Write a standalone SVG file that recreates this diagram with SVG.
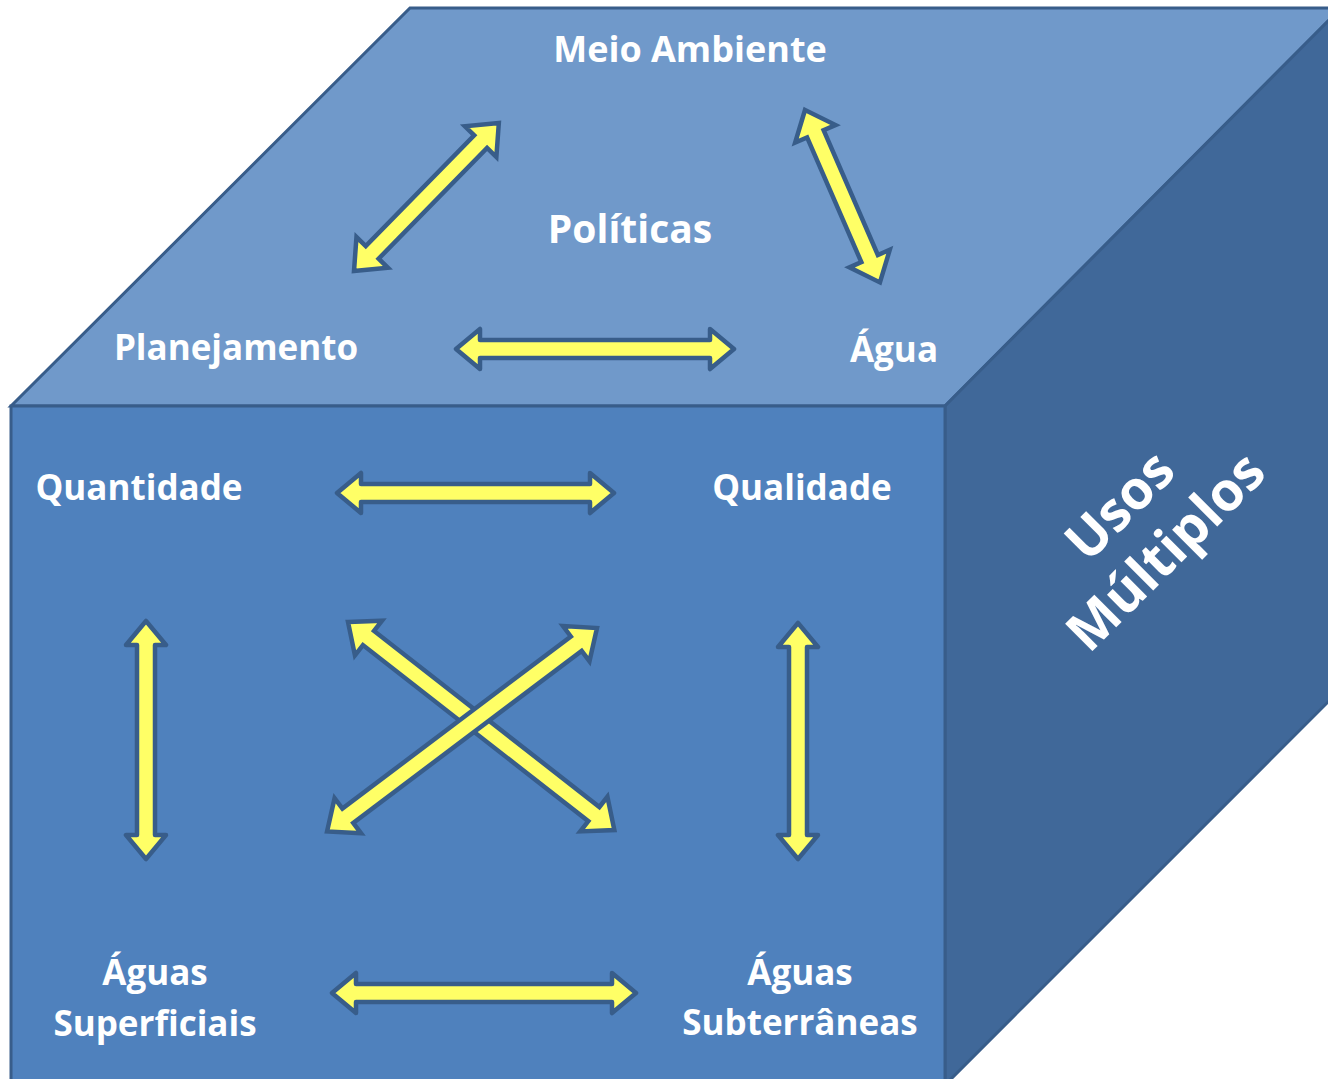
<svg xmlns="http://www.w3.org/2000/svg" width="1328" height="1079" viewBox="0 0 1328 1079">
<style>
.face{stroke:#385D8A;stroke-width:3;stroke-linejoin:miter}
.arr{fill:#FFFF66;stroke:#385D8A;stroke-width:4.5;stroke-linejoin:round}
.arrd{fill:#FFFF66;stroke:#385D8A;stroke-width:4.5;stroke-linejoin:miter}
.lbl{font-family:"Open Sans","Noto Sans",sans-serif;font-weight:bold;font-size:35px;fill:#FFFFFF;text-anchor:middle}
.big{font-size:54px}
</style>
<rect width="1328" height="1079" fill="#FFFFFF"/>
<g id="cube">
<polygon class="face" fill="#7099CA" points="11,406 410,8 1332,8 1332,17 945,406"/>
<polygon class="face" fill="#406899" points="945,406 1332,17 1332,698 945,1085"/>
<rect class="face" fill="#4F81BD" x="11" y="406" width="934" height="680"/>
</g>
<g id="connectors">
<polygon class="arrd" transform="translate(354,271) rotate(-45.6)" points="0,0 26,-22 26,-9 181,-9 181,-22 207,0 181,22 181,9 26,9 26,22"/>
<polygon class="arrd" transform="translate(805,110) rotate(66.5)" points="0,0 26,-22 26,-9 162,-9 162,-22 188,0 162,22 162,9 26,9 26,22"/>
<polygon class="arr" points="456,349 480,329 480,340 710,340 710,329 734,349 710,369 710,358 480,358 480,369"/>
<polygon class="arr" points="337,493 361,473 361,484 590,484 590,473 614,493 590,513 590,502 361,502 361,513"/>
<polygon class="arr" points="146,621 166,645 155,645 155,835 166,835 146,859 126,835 137,835 137,645 126,645"/>
<polygon class="arr" points="798,623 818,647 807,647 807,835 818,835 798,859 778,835 789,835 789,647 778,647"/>
<polygon class="arrd" transform="translate(348,622) rotate(38)" points="0,0 26,-22 26,-9 312,-9 312,-22 338,0 312,22 312,9 26,9 26,22"/>
<polygon class="arrd" transform="translate(597,628) rotate(143)" points="0,0 26,-22 26,-9 312,-9 312,-22 338,0 312,22 312,9 26,9 26,22"/>
<polygon class="arr" points="332,993 356,973 356,984 612,984 612,973 636,993 612,1013 612,1002 356,1002 356,1013"/>
</g>
<g id="meio-ambiente"><text class="lbl" x="690" y="62" style="font-size:36px">Meio Ambiente</text></g>
<g id="politicas"><text class="lbl" x="630" y="243" style="font-size:39px">Políticas</text></g>
<g id="planejamento"><text class="lbl" x="236" y="360">Planejamento</text></g>
<g id="agua"><text class="lbl" x="894" y="362">Água</text></g>
<g id="quantidade"><text class="lbl" x="139" y="500">Quantidade</text></g>
<g id="qualidade"><text class="lbl" x="802" y="500">Qualidade</text></g>
<g id="aguas-superficiais"><text class="lbl" x="155" y="985">Águas</text><text class="lbl" x="155" y="1036">Superficiais</text></g>
<g id="aguas-subterraneas"><text class="lbl" x="800" y="985">Águas</text><text class="lbl" x="800" y="1035">Subterrâneas</text></g>
<g id="usos-multiplos"><g transform="translate(1147,533) rotate(-45)"><text class="lbl big" x="0" y="-20">Usos</text><text class="lbl big" x="0" y="45">Múltiplos</text></g></g>
</svg>
